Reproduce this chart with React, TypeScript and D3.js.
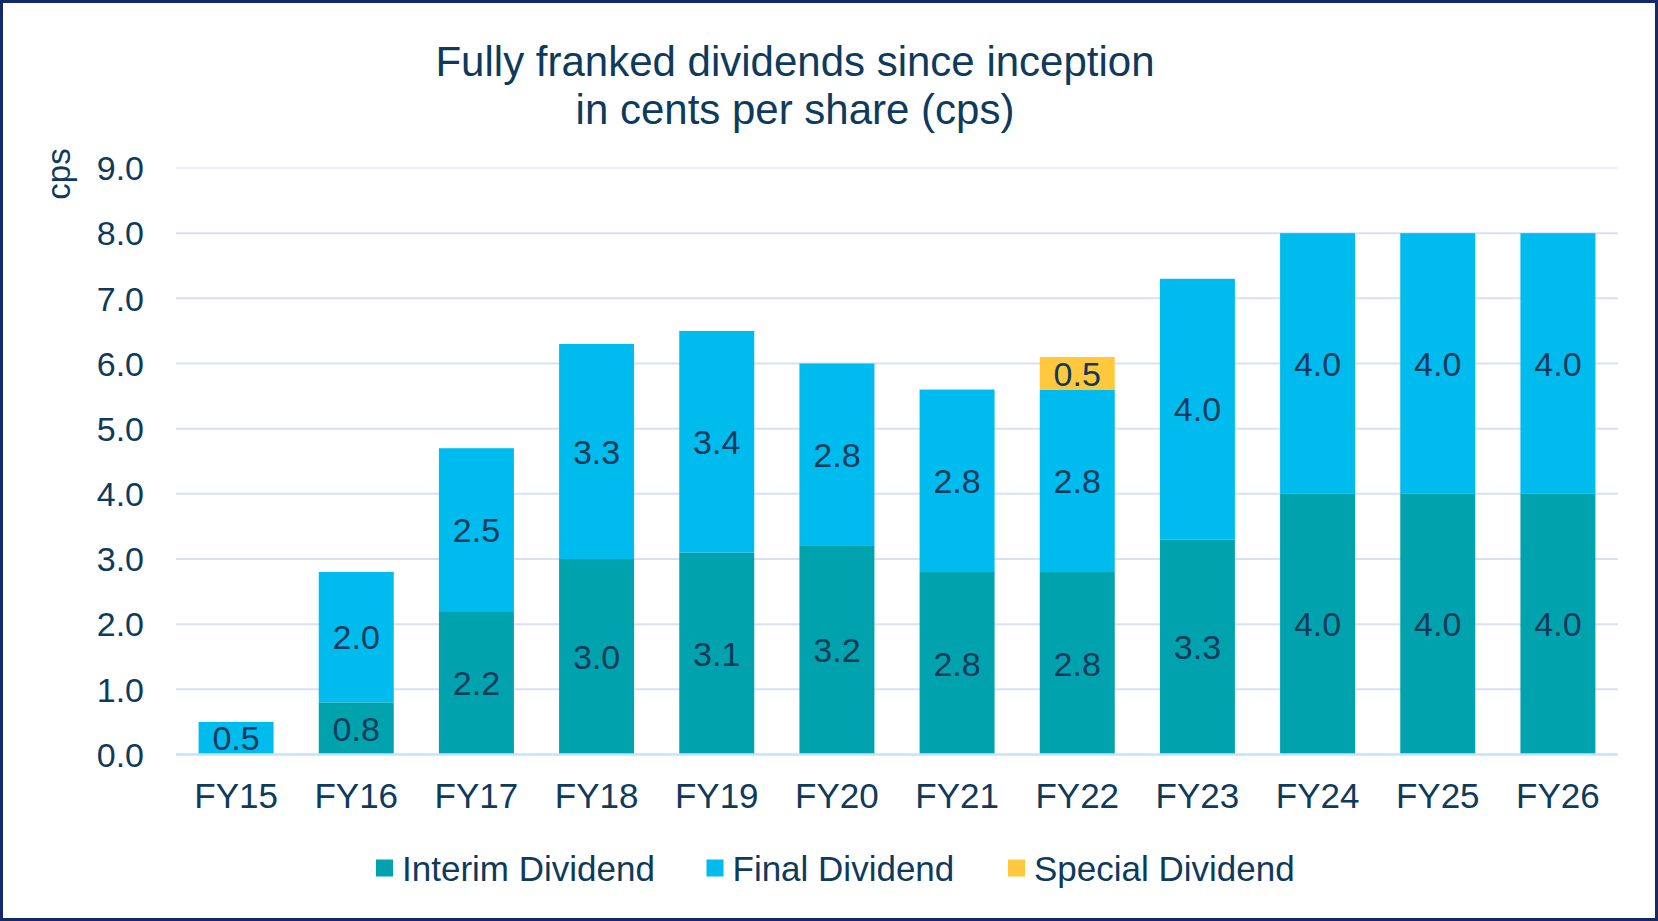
import React from "react";
import * as d3 from "d3";

const categories = ["FY15", "FY16", "FY17", "FY18", "FY19", "FY20", "FY21", "FY22", "FY23", "FY24", "FY25", "FY26"];
const interim = [0, 0.8, 2.2, 3.0, 3.1, 3.2, 2.8, 2.8, 3.3, 4.0, 4.0, 4.0];
const finalDiv = [0.5, 2.0, 2.5, 3.3, 3.4, 2.8, 2.8, 2.8, 4.0, 4.0, 4.0, 4.0];
const special = [0, 0, 0, 0, 0, 0, 0, 0.5, 0, 0, 0, 0];
const seriesNames = ["Interim Dividend", "Final Dividend", "Special Dividend"];
const yTicks = [0, 1, 2, 3, 4, 5, 6, 7, 8, 9];
const titleLines = ["Fully franked dividends since inception", "in cents per share (cps)"];

const W = 1658;
const H = 921;
const COLORS = ["#00A3AD", "#00BCEE", "#FFC83D"];
const TEXT = "#0E3A5C";
const FONT = "'Liberation Sans', Arial, sans-serif";

export default function App() {
  const x = d3.scaleBand<string>().domain(categories).range([176, 1618]).paddingInner(0.376).paddingOuter(0.188);
  const y = d3.scaleLinear().domain([0, 9]).range([754.5, 168]);

  const rows = categories.map((c, i) => ({ cat: c, interim: interim[i], final: finalDiv[i], special: special[i] }));
  const stack = d3.stack<any>().keys(["interim", "final", "special"])(rows);

  const legendX = [376, 706.5, 1008];

  return (
    <svg width={W} height={H} style={{ position: "absolute", left: 0, top: 0, background: "#fff" }} fontFamily={FONT}>
      <rect x={1.5} y={1.5} width={W - 3} height={H - 3} fill="#fff" stroke="#12296B" strokeWidth={3} />
      {titleLines.map((t, i) => (
        <text key={t} x={795} y={76 + i * 47.5} textAnchor="middle" fontSize={42} fill={TEXT}>{t}</text>
      ))}
      <text transform="translate(70,174) rotate(-90)" textAnchor="middle" fontSize={33} fill={TEXT}>cps</text>
      {yTicks.filter((t) => t > 0).map((t) => (
        <line key={t} x1={176} x2={1618} y1={y(t)} y2={y(t)} stroke={t === 9 ? "#EBEEF8" : "#D9E0F1"} strokeWidth={2} />
      ))}
      {yTicks.map((t) => (
        <text key={t} x={144} y={y(t)} dy="0.36em" textAnchor="end" fontSize={34} fill={TEXT}>{t.toFixed(1)}</text>
      ))}
      {stack.map((layer, si) => (
        <g key={si}>
          {layer.map((d: any, i: number) => {
            const v = d[1] - d[0];
            if (v <= 0) return null;
            return (
              <rect key={i} x={x(categories[i])} width={x.bandwidth()} y={y(d[1])} height={y(d[0]) - y(d[1])} fill={COLORS[si]} />
            );
          })}
        </g>
      ))}
      <line x1={176} x2={1618} y1={y(0)} y2={y(0)} stroke="#C3E3F7" strokeWidth={2.5} />
      {stack.map((layer, si) => (
        <g key={"l" + si}>
          {layer.map((d: any, i: number) => {
            const v = d[1] - d[0];
            if (v <= 0) return null;
            return (
              <text key={i} x={(x(categories[i]) as number) + x.bandwidth() / 2} y={(y(d[0]) + y(d[1])) / 2} dy="0.36em" textAnchor="middle" fontSize={34} fill={TEXT}>
                {v.toFixed(1)}
              </text>
            );
          })}
        </g>
      ))}
      {categories.map((c) => (
        <text key={c} x={(x(c) as number) + x.bandwidth() / 2} y={808} textAnchor="middle" fontSize={35} fill={TEXT}>{c}</text>
      ))}
      {seriesNames.map((n, i) => (
        <g key={n}>
          <rect x={legendX[i]} y={859.5} width={17} height={17} fill={COLORS[i]} />
          <text x={legendX[i] + 26} y={868} dy="0.36em" fontSize={35} fill={TEXT}>{n}</text>
        </g>
      ))}
    </svg>
  );
}
